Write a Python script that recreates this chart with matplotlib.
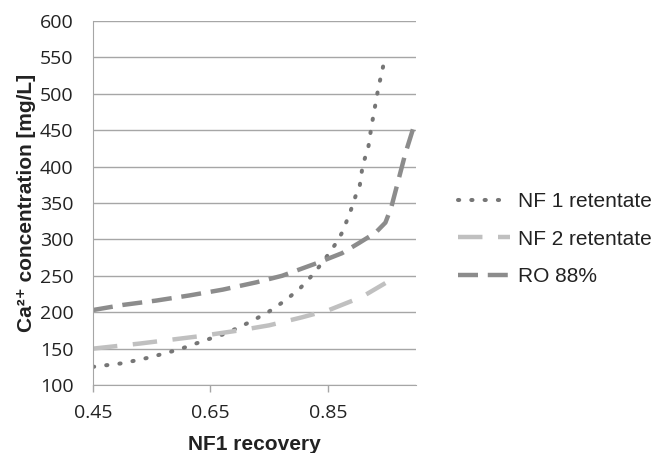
import matplotlib
matplotlib.use('Agg')
import matplotlib.pyplot as plt

# data
nf1_x = [0.45, 0.501, 0.547, 0.597, 0.643, 0.677, 0.721, 0.750, 0.779, 0.804,
         0.826, 0.846, 0.865, 0.874, 0.887, 0.897, 0.904, 0.909, 0.914, 0.919,
         0.924, 0.930, 0.936, 0.947]
nf1_y = [125, 130, 138, 149, 162, 171, 188, 201, 217, 234,
         253, 274, 296, 309, 335, 359, 372, 400, 414, 427,
         454, 481, 508, 548]

nf2_x = [0.45, 0.53, 0.631, 0.699, 0.75, 0.806, 0.852, 0.908, 0.948]
nf2_y = [150, 157, 167, 175, 182, 193, 203, 221, 240]

ro_x = [0.45, 0.501, 0.558, 0.614, 0.671, 0.728, 0.772, 0.830, 0.874, 0.903,
        0.931, 0.948, 0.958, 0.970, 0.982, 0.996, 1.0]
ro_y = [203, 210, 216, 223, 231, 241, 250, 267, 281, 295,
        309, 323, 344, 381, 418, 454, 460]

x_ticks = [0.45, 0.65, 0.85]
y_ticks = [100, 150, 200, 250, 300, 350, 400, 450, 500, 550, 600]

GRID = '#a6a6a6'
TXT = '#222222'
ARIAL = ['Liberation Sans', 'DejaVu Sans']

fig = plt.figure(figsize=(6.54, 4.53), dpi=100)
ax = fig.add_axes([0.1422, 0.150, 0.4938, 0.804])

ax.plot(nf1_x, nf1_y, color='#767676', linewidth=2.9, linestyle=(0, (0.3, 3.0)),
        dash_capstyle='round', label='NF 1 retentate')
ax.plot(nf2_x, nf2_y, color='#c0c0c0', linewidth=3.2, linestyle=(0, (5.5, 3.5)),
        label='NF 2 retentate')
ax.plot(ro_x, ro_y, color='#8c8c8c', linewidth=3.2, linestyle=(0, (4.5, 2.2)),
        label='RO 88%')

ax.set_xlim(0.45, 1.0)
ax.set_ylim(100, 600)
ax.set_xticks(x_ticks)
ax.set_xticklabels([f'{v:.2f}' for v in x_ticks])
ax.set_yticks(y_ticks)
ax.yaxis.grid(True, color=GRID, linewidth=1.0)
ax.set_axisbelow(True)

for s in ['top', 'right']:
    ax.spines[s].set_visible(False)
ax.spines['left'].set_color(GRID)
ax.spines['bottom'].set_color(GRID)
ax.tick_params(axis='y', length=0, pad=14, labelsize=14, colors=TXT)
ax.tick_params(axis='x', length=5, width=1, color=GRID, pad=9, labelsize=14,
               labelcolor=TXT)
for lab in ax.get_xticklabels() + ax.get_yticklabels():
    lab.set_family(['Open Sans', 'DejaVu Sans'])

ax.set_xlabel('NF1 recovery', fontsize=15, fontweight='bold', family=ARIAL,
              labelpad=9, color=TXT)
ax.set_ylabel('Ca²⁺ concentration [mg/L]', fontsize=15, fontweight='bold',
              family=ARIAL, labelpad=3, color=TXT)

fig.legend(loc='center left', bbox_to_anchor=(0.672, 0.472), frameon=False,
           prop={'family': ARIAL, 'size': 15}, labelcolor=TXT,
           handlelength=2.5, labelspacing=0.88, handletextpad=0.35)

fig.savefig('out.png', dpi=100)
